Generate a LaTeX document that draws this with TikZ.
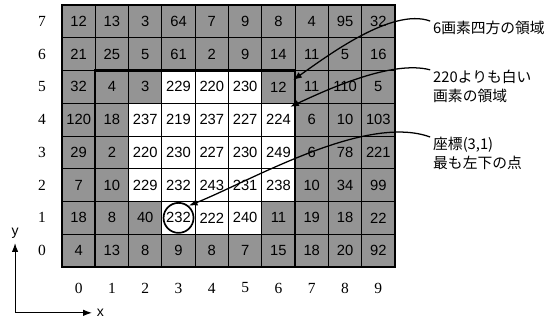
\documentclass[tikz,border=0pt]{standalone}
\usepackage{fontspec}
\setmainfont{Liberation Serif}
\newfontfamily\numfont{Liberation Sans}
\newfontfamily\jpfont{Noto Sans CJK JP}
\usetikzlibrary{arrows.meta,positioning}

\tikzset{
  pixel/.style={draw, line width=0.6pt, minimum width=0.8325cm, minimum height=0.81875cm, inner sep=0pt, font=\numfont\fontsize{10.5}{12}\selectfont},
  darkcell/.style={pixel, fill=black!42},
  lightcell/.style={pixel, fill=white},
  tick/.style={font=\fontsize{11}{13}\selectfont},
  callout/.style={font=\jpfont\fontsize{10.5}{13.5}\selectfont, anchor=north west, inner sep=0pt, align=left},
  pointer/.style={line width=0.9pt, -{Latex[length=2.2mm,width=1.6mm]}},
  axis/.style={line width=0.7pt, -{Latex[length=2.2mm,width=1.6mm]}},
}

\begin{document}
\begin{tikzpicture}[x=0.8325cm, y=0.81875cm]
\useasboundingbox (-1.862,-1.649) rectangle (14.625,8.153);
% pixel values, one row at a time
\foreach \row/\vals in {7/{12,13,3,64,7,9,8,4,95,32},
                        6/{21,25,5,61,2,9,14,11,5,16},
                        5/{32,4,3,229,220,230,12,11,110,5},
                        4/{120,18,237,219,237,227,224,6,10,103},
                        3/{29,2,220,230,227,230,249,6,78,221},
                        2/{7,10,229,232,243,231,238,10,34,99},
                        1/{18,8,40,232,222,240,11,19,18,22},
                        0/{4,13,8,9,8,7,15,18,20,92}}{
  \node[tick] (r\row) at (-0.6,\row+0.5) {\row};
  \foreach \v [count=\c from 0] in \vals {
    \def\look{darkcell}
    \ifnum\v>218 \ifnum\c<7 \def\look{lightcell}\fi\fi
    \node[\look] (p\c-\row) at (\c+0.5,\row+0.5) {\v};
  }
}
\foreach \c in {0,...,9}
  \node[tick] (c\c) at (\c+0.5,-0.64) {\c};
% outer frame and the 6x6 window
\draw[line width=1.6pt] (0,0) rectangle (10,8);
\draw[line width=1.6pt] (1,0) |- (7,6) -- (7,0);
\node[draw, circle, line width=1.2pt, minimum size=0.75cm, inner sep=0pt] (spot) at (p3-1) {};
% callouts
\node[callout] (square) at (11.14,7.51) {6画素四方の領域};
\node[callout] (bright) at (11.14,6.02) {220よりも白い\\画素の領域};
\node[callout] (lowest) at (11.14,3.97) {座標(3,1)\\最も左下の点};
\coordinate (squaretip) at (6.94,5.71);
\coordinate (brighttip) at (6.85,4.89);
\draw[pointer] ([xshift=-2pt]square.north west) to[out=160,in=35,looseness=0.7] (squaretip);
\draw[pointer] ([xshift=-2pt]bright.north west) to[out=165,in=25,looseness=0.7] (brighttip);
\draw[pointer] ([xshift=-2pt]lowest.north west) to[out=160,in=22,looseness=0.7] (spot.50);
% axes
\coordinate (ax) at (-1.41,-1.40);
\coordinate (ytip) at (-1.41,0.73);
\coordinate (xtip) at (0.90,-1.40);
\draw[axis] (ax) -- (ytip);
\draw[axis] (ax) -- (xtip);
\node[above=0pt of ytip, font=\numfont] (ylab) {y};
\node[right=0pt of xtip, font=\numfont] (xlab) {x};
\end{tikzpicture}
\end{document}
